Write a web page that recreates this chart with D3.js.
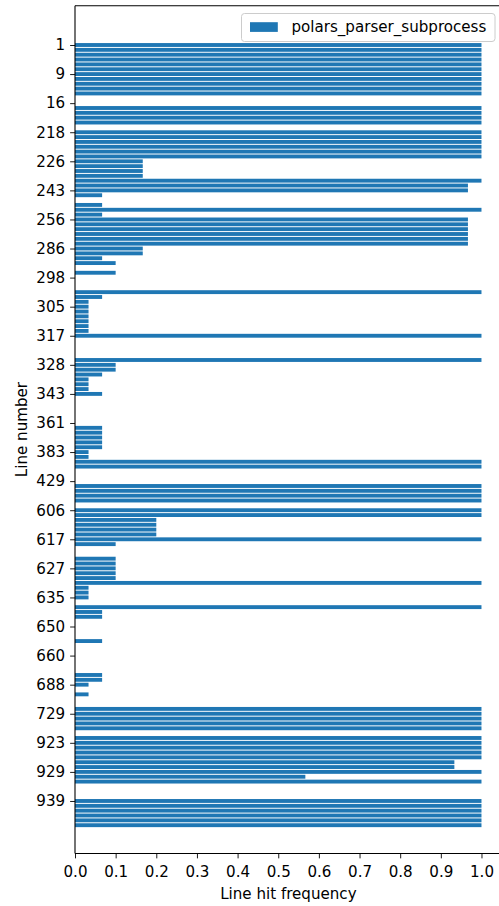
<!DOCTYPE html>
<html>
<head>
<meta charset="utf-8">
<script src="https://cdn.jsdelivr.net/npm/d3@7"></script>
<style>
  body { margin: 0; background: #fff; }
  text { font-family: "DejaVu Sans", sans-serif; }
</style>
</head>
<body>
<svg id="chart" width="499" height="906"></svg>
<script>
// ---- data ----
const seriesName = "polars_parser_subprocess";
const tickLabels = ["1","9","16","218","226","243","256","286","298","305","317","328","343","361","383","429","606","617","627","635","650","660","688","729","923","929","939"];
const tickEvery = 6;
const values = [
  1,1,1,1,1,1,1,1,1,1,1,            // 0-10
  0,0,                              // 11-12
  1,1,1,1,                          // 13-16
  0,                                // 17
  1,1,1,1,1,1,                      // 18-23
  0.1667,0.1667,0.1667,0.1667,      // 24-27
  1,0.9667,0.9667,                  // 28-30
  0.0667,0,0.0667,1,0.0667,         // 31-35
  0.9667,0.9667,0.9667,0.9667,0.9667,0.9667, // 36-41
  0.1667,0.1667,0.0667,0.1,0,0.1,   // 42-47
  0,0,0,                            // 48-50
  1,0.0667,                         // 51-52
  0.0333,0.0333,0.0333,0.0333,0.0333,0.0333,0.0333, // 53-59
  1,                                // 60
  0,0,0,0,                          // 61-64
  1,0.1,0.1,0.0667,                 // 65-68
  0.0333,0.0333,0.0333,0.0667,      // 69-72
  0,0,0,0,0,0,                      // 73-78
  0.0667,0.0667,0.0667,0.0667,0.0667, // 79-83
  0.0333,0.0333,1,1,                // 84-87
  0,0,0,                            // 88-90
  1,1,1,1,0,1,1,                    // 91-97
  0.2,0.2,0.2,0.2,                  // 98-101
  1,0.1,0,0,                        // 102-105
  0.1,0.1,0.1,0.1,0.1,              // 106-110
  1,0.0333,0.0333,0.0333,0,1,       // 111-116
  0.0667,0.0667,0,0,0,0,0.0667,     // 117-123
  0,0,0,0,0,0,                      // 124-129
  0.0667,0.0667,0.0333,0,0.0333,0,0, // 130-136
  1,1,1,1,1,0,                      // 137-142
  1,1,1,1,1,0.9333,0.9333,1,0.5667,1, // 143-152
  0,0,0,                            // 153-155
  1,1,1,1,1,1                       // 156-161
];
const xTicks = [0,0.1,0.2,0.3,0.4,0.5,0.6,0.7,0.8,0.9,1.0];

// ---- layout ----
const svg = d3.select("#chart");
const plot = { left: 75, right: 501.8, top: 5.7, bottom: 853.5 };
const n = values.length;
const padTop = 7.71, padBottom = 5.44; // in slot units

const x = d3.scaleLinear().domain([0, 1.05]).range([plot.left, plot.right]);
const y = d3.scaleLinear().domain([-0.4 - padTop, n - 0.6 + padBottom]).range([plot.top, plot.bottom]);
const step = y(1) - y(0);
const barColor = "#1f77b4";

// bars
svg.append("g").selectAll("rect")
  .data(values.map((v, i) => ({ v, i })).filter(d => d.v > 0))
  .join("rect")
  .attr("x", x(0))
  .attr("y", d => y(d.i) - 0.4 * step)
  .attr("width", d => x(d.v) - x(0))
  .attr("height", 0.8 * step)
  .attr("fill", barColor);

// axes
const fs = 15.1;
const yAxis = d3.axisLeft(y)
  .tickValues(d3.range(0, n, tickEvery))
  .tickFormat(i => tickLabels[i / tickEvery])
  .tickSize(4.86).tickPadding(5);
const gy = svg.append("g").attr("transform", `translate(${plot.left},0)`).call(yAxis);
gy.select(".domain").remove();
gy.selectAll("text").attr("font-size", fs).attr("fill", "#000").attr("font-family", "DejaVu Sans");
gy.selectAll("line").attr("stroke", "#000").attr("stroke-width", 0.9);

const xAxis = d3.axisBottom(x)
  .tickValues(xTicks)
  .tickFormat(d3.format(".1f"))
  .tickSize(4.86).tickPadding(8.4);
const gx = svg.append("g").attr("transform", `translate(0,${plot.bottom})`).call(xAxis);
gx.select(".domain").remove();
gx.selectAll("text").attr("font-size", fs).attr("fill", "#000").attr("font-family", "DejaVu Sans");
gx.selectAll("line").attr("stroke", "#000").attr("stroke-width", 0.9);

// spines
const sp = svg.append("g").attr("stroke", "#000").attr("stroke-width", 1.1).attr("fill", "none");
sp.append("line").attr("x1", plot.left).attr("x2", plot.left).attr("y1", plot.top).attr("y2", plot.bottom);
sp.append("line").attr("x1", plot.left).attr("x2", plot.right).attr("y1", plot.top).attr("y2", plot.top);
sp.append("line").attr("x1", plot.left).attr("x2", plot.right).attr("y1", plot.bottom).attr("y2", plot.bottom);
sp.append("line").attr("x1", plot.right).attr("x2", plot.right).attr("y1", plot.top).attr("y2", plot.bottom);

// axis labels
svg.append("text")
  .attr("x", (plot.left + plot.right) / 2).attr("y", 898.5)
  .attr("text-anchor", "middle").attr("font-size", fs).attr("fill", "#000")
  .text("Line hit frequency");
svg.append("text")
  .attr("transform", `translate(26.5,${(plot.top + plot.bottom) / 2}) rotate(-90)`)
  .attr("text-anchor", "middle").attr("font-size", fs).attr("fill", "#000")
  .text("Line number");

// legend
const lg = svg.append("g");
lg.append("rect")
  .attr("x", 241.5).attr("y", 13.5).attr("width", 253.5).attr("height", 28)
  .attr("rx", 3).attr("fill", "#fff").attr("fill-opacity", 0.8)
  .attr("stroke", "#ccc").attr("stroke-width", 1);
lg.append("rect")
  .attr("x", 250).attr("y", 22.2).attr("width", 27.8).attr("height", 9.7)
  .attr("fill", barColor);
lg.append("text")
  .attr("x", 291.5).attr("y", 32.2).attr("font-size", fs).attr("fill", "#000")
  .text(seriesName);
</script>
</body>
</html>
